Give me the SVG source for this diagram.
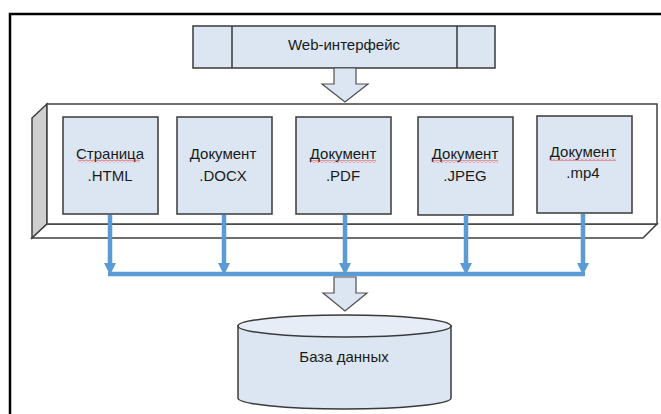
<svg xmlns="http://www.w3.org/2000/svg" width="661" height="414" viewBox="0 0 661 414">
<style>
.lbl{font-family:"Liberation Sans",Arial,sans-serif;font-size:15px;fill:#1a1a1a;text-anchor:middle}
.box{fill:#dce6f2;stroke:#3a3a3a;stroke-width:1.5}
.bigarrow{fill:#dce6f2;stroke:#505050;stroke-width:1.2}
.plat{stroke:#404040;stroke-width:1.5}
.blue{stroke:#5b9bd5;stroke-width:4.5;fill:none}
.head{fill:#5b9bd5}
</style>
<defs>
<pattern id="sq" width="4" height="3" patternUnits="userSpaceOnUse">
<path d="M0,2.5 L2,0.5 L4,2.5" fill="none" stroke="#e02020" stroke-width="0.8"/>
</pattern>
</defs>
<rect width="661" height="414" fill="#ffffff"/>
<rect x="10" y="14" width="700" height="500" fill="none" stroke="#000" stroke-width="2.5"/>

<g id="web">
<rect class="box" x="193" y="26" width="302" height="42"/>
<line x1="232" y1="26" x2="232" y2="68" stroke="#3a3a3a" stroke-width="1.5"/>
<line x1="457" y1="26" x2="457" y2="68" stroke="#3a3a3a" stroke-width="1.5"/>
<text class="lbl" x="344" y="50">Web-интерфейс</text>
</g>

<g id="arrow-top">
<polygon class="bigarrow" points="334,68 356,68 356,84 368,84 345,102 322,84 334,84"/>
</g>

<g id="platform">
<polygon class="plat" fill="#cfcfcf" points="32,118 47,104 47,224 32,238"/>
<polygon class="plat" fill="#ffffff" points="47,224 657,224 643,238 32,238"/>
<rect class="plat" fill="#ffffff" x="47" y="104" width="610" height="120"/>
</g>

<g id="html">
<rect class="box" x="63" y="117" width="95" height="97"/>
<text class="lbl" x="110" y="159">Страница</text>
<text class="lbl" x="110" y="181">.HTML</text>
<rect x="78" y="159.5" width="62" height="3" fill="url(#sq)"/>
</g>
<g id="docx">
<rect class="box" x="177" y="117" width="95" height="97"/>
<text class="lbl" x="223" y="159">Документ</text>
<text class="lbl" x="223" y="181">.DOCX</text>
</g>
<g id="pdf">
<rect class="box" x="296" y="117" width="95" height="97"/>
<text class="lbl" x="343" y="159">Документ</text>
<text class="lbl" x="343" y="181">.PDF</text>
<rect x="310" y="160" width="66" height="3" fill="url(#sq)"/>
</g>
<g id="jpeg">
<rect class="box" x="418" y="117" width="95" height="98"/>
<text class="lbl" x="465" y="159">Документ</text>
<text class="lbl" x="465" y="181">.JPEG</text>
<rect x="432" y="160" width="66" height="3" fill="url(#sq)"/>
</g>
<g id="mp4">
<rect class="box" x="537" y="116" width="95" height="97"/>
<text class="lbl" x="583" y="157">Документ</text>
<text class="lbl" x="583" y="178">.mp4</text>
<rect x="550" y="158" width="66" height="3" fill="url(#sq)"/>
</g>

<g id="connectors">
<line class="blue" x1="108" y1="274" x2="585" y2="274" stroke-width="4"/>
<line class="blue" x1="110" y1="215" x2="110" y2="266"/>
<line class="blue" x1="224" y1="215" x2="224" y2="266"/>
<line class="blue" x1="345" y1="215" x2="345" y2="266"/>
<line class="blue" x1="466" y1="215" x2="466" y2="266"/>
<line class="blue" x1="583" y1="214" x2="583" y2="266"/>
<polygon class="head" points="104,263 116,263 110,275"/>
<polygon class="head" points="218,263 230,263 224,275"/>
<polygon class="head" points="339,263 351,263 345,275"/>
<polygon class="head" points="460,263 472,263 466,275"/>
<polygon class="head" points="577,263 589,263 583,275"/>
</g>

<g id="arrow-bottom">
<polygon class="bigarrow" points="334,277 356,277 356,293 367,293 345,311 323,293 334,293"/>
</g>

<g id="db">
<path d="M238,326 L238,398 A106.5,11 0 0 0 451,398 L451,326 Z" fill="#dce6f2" stroke="#3a3a3a" stroke-width="1.5"/>
<ellipse cx="344.5" cy="326" rx="106.5" ry="11" fill="#e6edf7" stroke="#3a3a3a" stroke-width="1.5"/>
<text class="lbl" x="344" y="362">База данных</text>
</g>
</svg>
